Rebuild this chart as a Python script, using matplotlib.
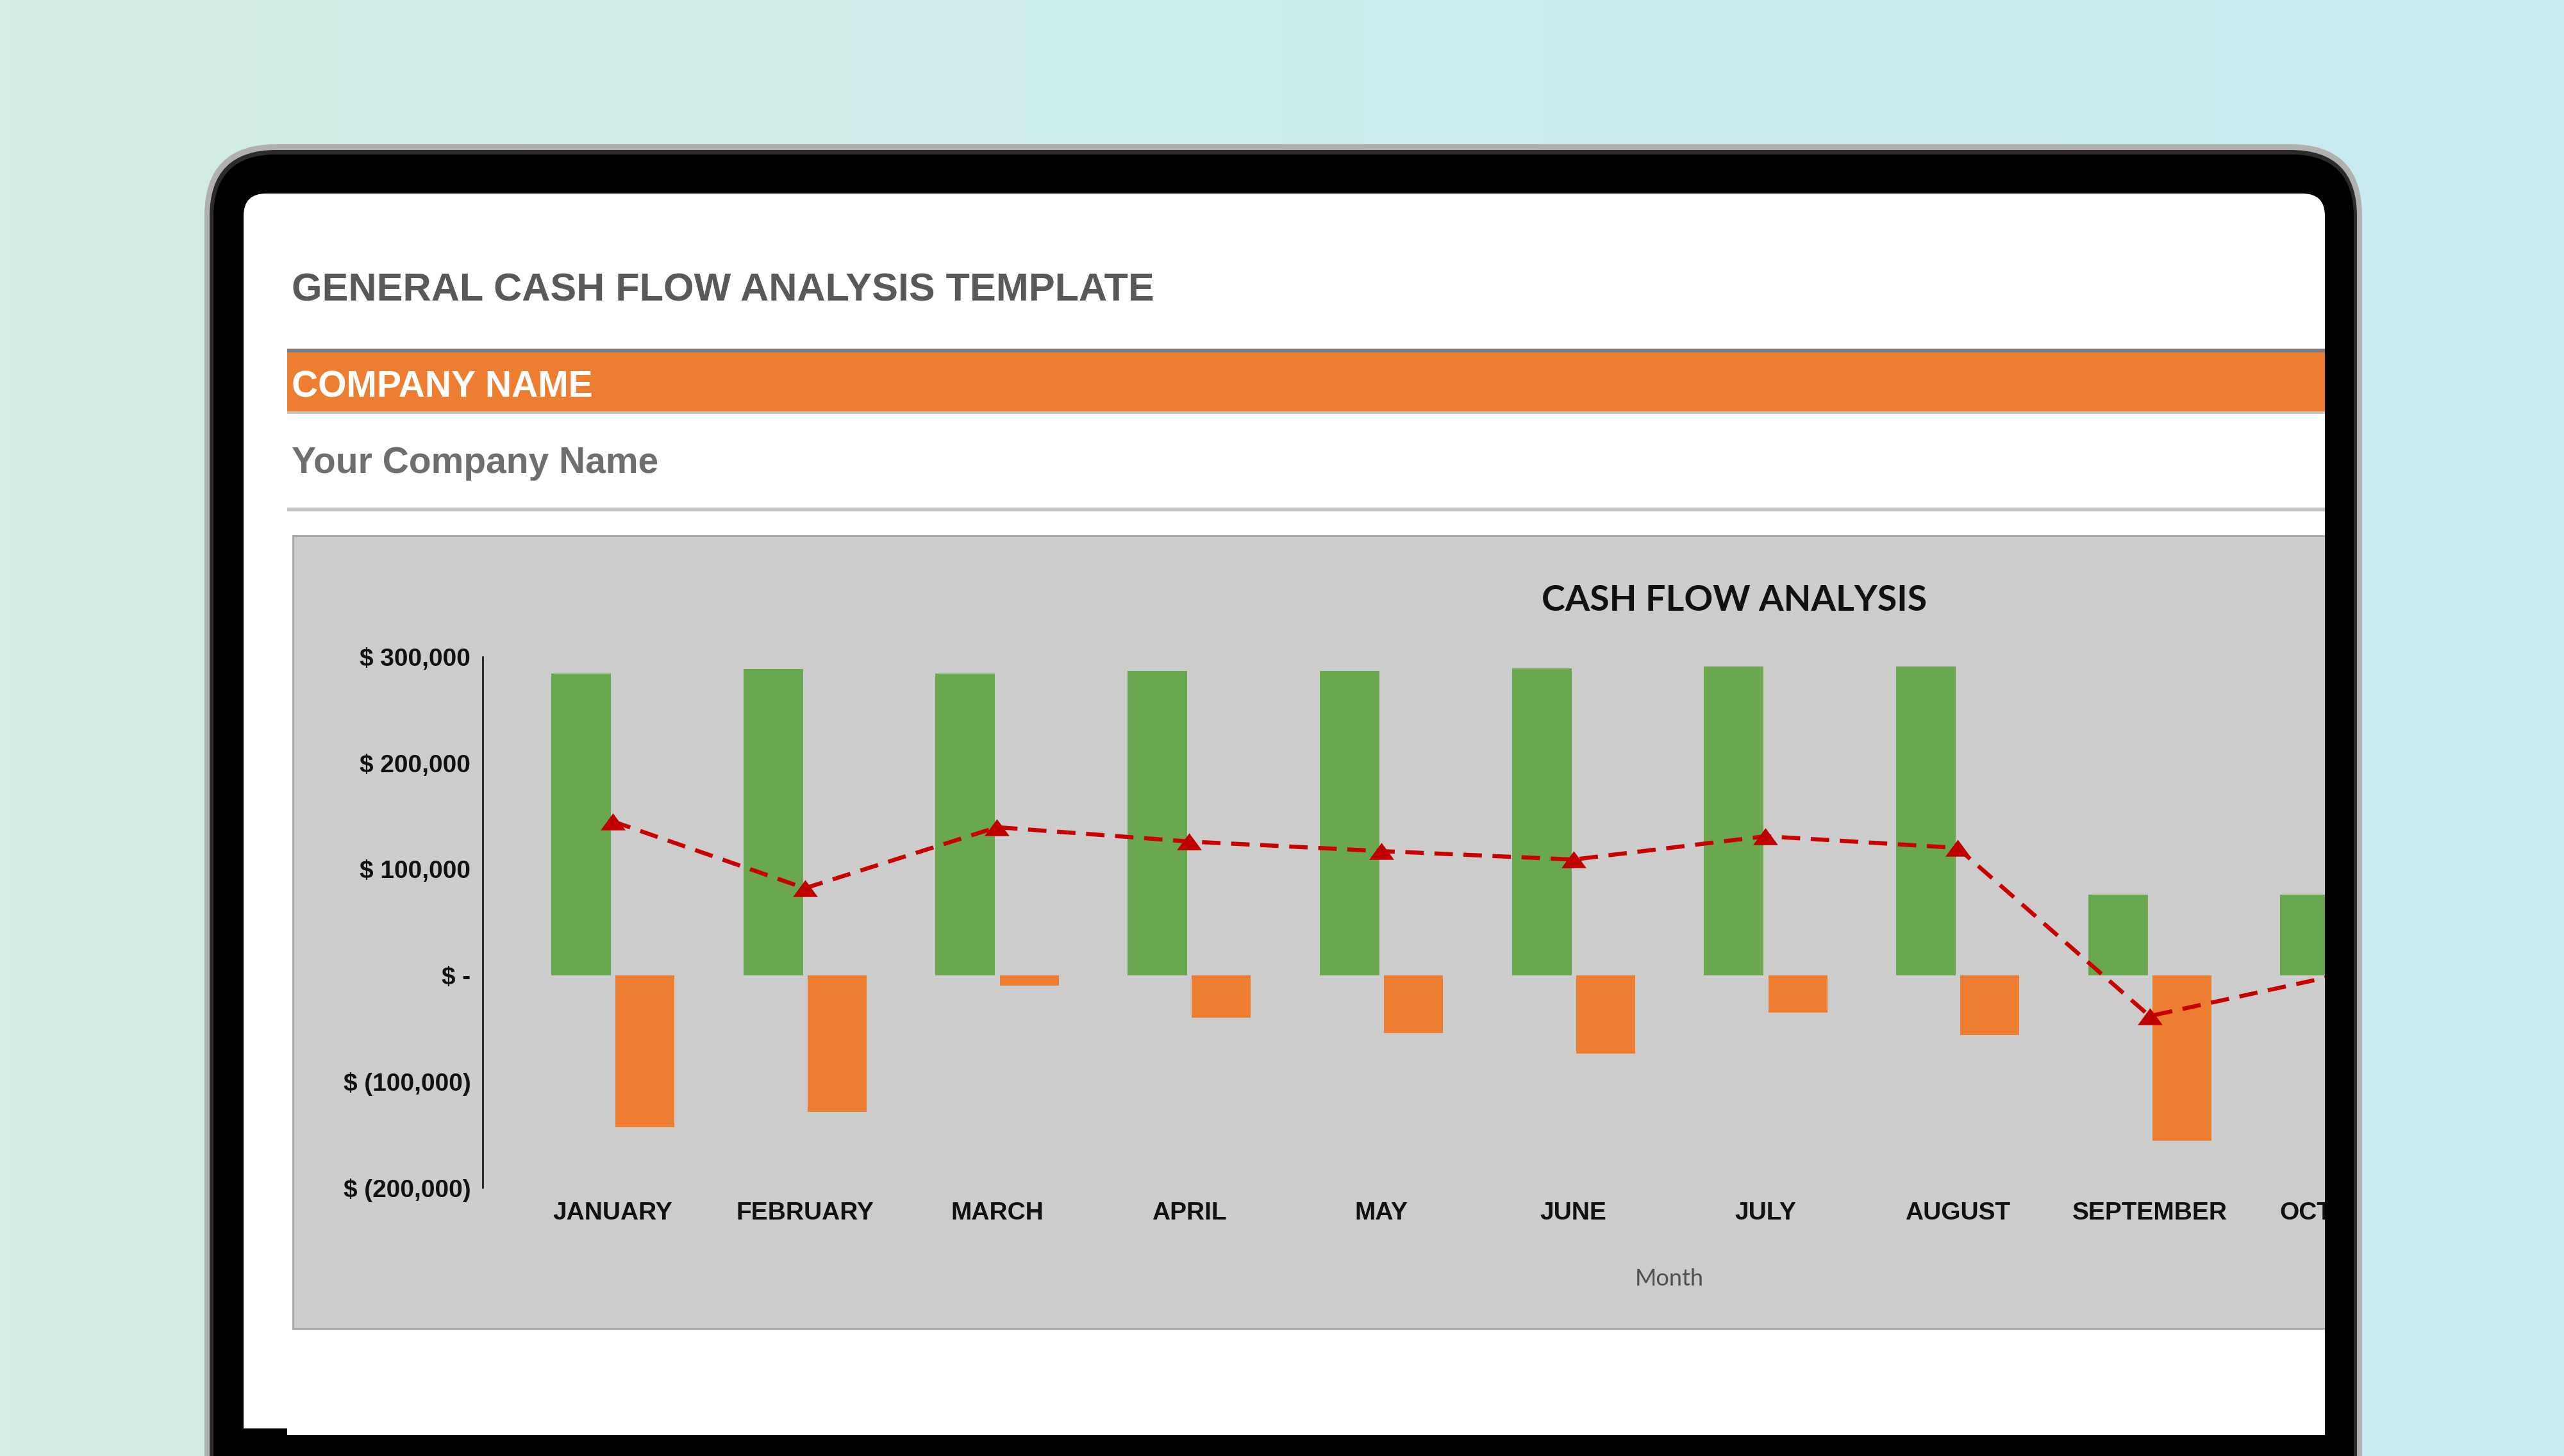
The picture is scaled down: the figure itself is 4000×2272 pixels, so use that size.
import numpy as np
import matplotlib
matplotlib.use("Agg")
import matplotlib.pyplot as plt
from matplotlib.patches import FancyBboxPatch, Rectangle
from matplotlib.colors import LinearSegmentedColormap
from matplotlib.transforms import Bbox, TransformedBbox

# chart data
months = ["JANUARY", "FEBRUARY", "MARCH", "APRIL", "MAY", "JUNE",
          "JULY", "AUGUST", "SEPTEMBER", "OCTOBER"]
cash_in = [284000, 288500, 284000, 286500, 286500, 289000, 291000, 291000, 76000, 76000]
cash_out = [-143500, -129000, -9700, -40000, -54700, -74000, -35000, -56000, -156000, -60000]
net_flow = [145000, 82000, 139500, 126000, 117000, 109000, 131000, 120000, -38500, 1000]
y_ticks = [300000, 200000, 100000, 0, -100000, -200000]
y_labels = ["$ 300,000", "$ 200,000", "$ 100,000", "$ -", "$ (100,000)", "$ (200,000)"]

GREEN = "#6aa84f"
ORANGE = "#ed7d31"
RED = "#c80000"
ARIAL = "Liberation Sans"

W, H = 4000, 2272
fig = plt.figure(figsize=(W / 100, H / 100), dpi=100)

# background page, in pixel coordinates (y grows downwards)
bg = fig.add_axes([0, 0, 1, 1])
bg.set_xlim(0, W)
bg.set_ylim(H, 0)
bg.axis("off")

grad = LinearSegmentedColormap.from_list("bg", ["#d1ede4", "#c7ebf3"])
bg.imshow(np.linspace(0, 1, 256).reshape(1, -1), cmap=grad, extent=(0, W, H, 0),
          aspect="auto", zorder=0)

# device frame
bg.add_patch(FancyBboxPatch((319, 225), 3366, 2300, boxstyle="round,pad=0,rounding_size=112",
                            fc="#b0b0b0", ec="none", zorder=1))
bg.add_patch(FancyBboxPatch((327, 234), 3350, 2300, boxstyle="round,pad=0,rounding_size=104",
                            fc="#2b2b2b", ec="none", zorder=1))
bg.add_patch(FancyBboxPatch((333, 241), 3339, 2300, boxstyle="round,pad=0,rounding_size=98",
                            fc="black", ec="none", zorder=1))
bg.add_patch(FancyBboxPatch((380, 302), 3247, 2100, boxstyle="round,pad=0,rounding_size=35",
                            fc="white", ec="none", zorder=2))
bg.add_patch(Rectangle((333, 2239), 3339, 80, fc="black", ec="none", zorder=3))
bg.add_patch(Rectangle((380, 2229), 68, 12, fc="black", ec="none", zorder=3))

screen_clip = Rectangle((380, 302), 3247, 1937, transform=bg.transData)

# sheet header
bg.text(455, 470, "GENERAL CASH FLOW ANALYSIS TEMPLATE", family=ARIAL, weight="bold",
        fontsize=44, color="#595959", va="baseline", ha="left", zorder=4)
bg.add_patch(Rectangle((448, 543.5), 3179, 6, fc="#7f7f7f", ec="none", zorder=4))
bg.add_patch(Rectangle((448, 549.5), 3179, 92.5, fc=ORANGE, ec="none", zorder=4))
bg.add_patch(Rectangle((448, 642), 3179, 4, fc="#c8c8c8", ec="none", zorder=4))
bg.text(455, 620, "COMPANY NAME", family=ARIAL, weight="bold", fontsize=41,
        color="white", va="baseline", ha="left", zorder=5)
bg.text(455, 738, "Your Company Name", family=ARIAL, weight="bold", fontsize=41,
        color="#6e6e6e", va="baseline", ha="left", zorder=4)
bg.add_patch(Rectangle((448, 792), 3179, 6, fc="#c4c5c1", ec="none", zorder=4))

# chart area
chart_bg = Rectangle((457, 836), 3300, 1237, fc="#cccccc", ec="#a3a79c", lw=2, zorder=4)
bg.add_patch(chart_bg)
chart_bg.set_clip_path(screen_clip)
bg.text(2706, 953, "CASH FLOW ANALYSIS", family="Lato", weight="bold", fontsize=40,
        color="#111111", va="baseline", ha="center", zorder=5)
bg.text(2604, 2006, "Month", family="Lato", fontsize=26, color="#505050",
        va="baseline", ha="center", zorder=5)

# plot axes: runs on past the screen edge, everything is clipped at the edge
left, right, top, bottom = 753, 3850, 1025, 1853
screen_right = 3627
ax = fig.add_axes([left / W, 1 - bottom / H, (right - left) / W, (bottom - top) / H])
ax.patch.set_alpha(0)
x = np.arange(len(months))
bars_in = ax.bar(x - 0.165, cash_in, width=0.31, color=GREEN, zorder=2)
bars_out = ax.bar(x + 0.168, cash_out, width=0.307, color=ORANGE, zorder=2)
tri = [(-1, -0.68), (1, -0.68), (0, 0.68)]
line, = ax.plot(x, net_flow, color=RED, lw=4.6, dashes=(4.5, 2.6), marker=tri, ms=28,
                markerfacecolor="#c00000", markeredgewidth=0, zorder=3)

ax.set_yticks(y_ticks, y_labels)
ax.set_xticks(x, months)
ax.set_xlim((left - 956) / 299.7, (right - 956) / 299.7)
ax.set_ylim(-200000, 300000)
for s in ["top", "right", "bottom"]:
    ax.spines[s].set_visible(False)
ax.spines["left"].set_linewidth(1.8)
ax.spines["left"].set_color("black")
ax.tick_params(axis="y", length=0, pad=13.5, labelsize=28, labelcolor="#111111")
ax.tick_params(axis="x", length=0, pad=15.5, labelsize=28, labelcolor="#111111")
for lab in ax.get_yticklabels() + ax.get_xticklabels():
    lab.set_family(ARIAL)
    lab.set_weight("bold")

clip_box = TransformedBbox(Bbox([[380 / W, 0], [screen_right / W, 1]]), fig.transFigure)
for art in list(bars_in) + list(bars_out) + [line] + ax.get_xticklabels():
    art.set_clip_on(True)
    art.set_clip_box(clip_box)

fig.savefig("out.png", dpi=100)
